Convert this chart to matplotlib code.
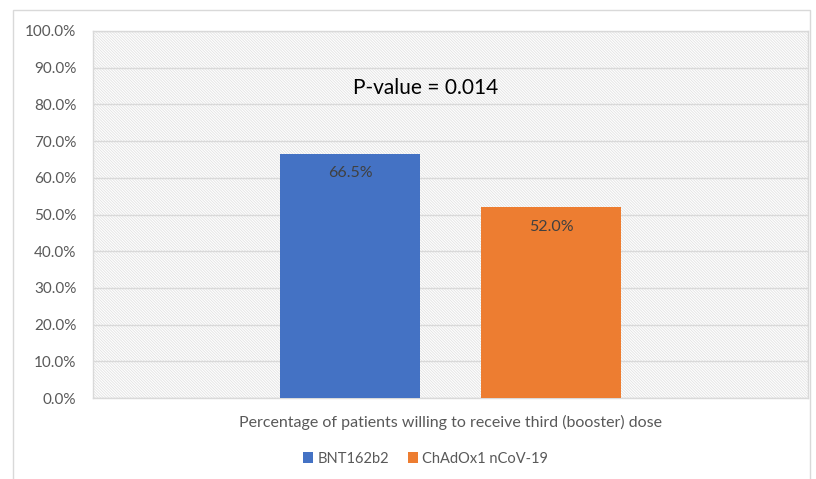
import matplotlib.pyplot as plt
from matplotlib.patches import Rectangle
from matplotlib.ticker import FuncFormatter

plt.rcParams['font.family'] = ['Lato', 'DejaVu Sans']
plt.rcParams['hatch.linewidth'] = 0.6

category = "Percentage of patients willing to receive third (booster) dose"
series = ["BNT162b2", "ChAdOx1 nCoV-19"]
values = [66.5, 52.0]
colors = ["#4472c4", "#ed7d31"]
p_value_text = "P-value = 0.014"

fig = plt.figure(figsize=(8.16, 4.79), dpi=100)
ax = fig.add_axes([93 / 816, 1 - 398 / 479, 715 / 816, 367 / 479])

# outer chart frame
fig.patches.append(Rectangle((13 / 816, -0.1), 797 / 816, 1.1 - 10 / 479,
                             transform=fig.transFigure, fill=False,
                             edgecolor="#d9d9d9", linewidth=1))

# hatched plot area
ax.add_patch(Rectangle((0, 0), 1, 1, transform=ax.transAxes, facecolor="white",
                       edgecolor="#e2e2e2", hatch="\\" * 12, linewidth=0, zorder=0))

offsets = [-0.1405, 0.1405]
width = 0.196
for name, val, col, off in zip(series, values, colors, offsets):
    ax.bar(off, val, width, color=col, label=name, zorder=3)
    ax.text(off, val - 5.3, f"{val:.1f}%", ha="center", va="center",
            fontsize=11.5, color="#404040", zorder=4)

ax.text(-0.035, 84.5, p_value_text, ha="center", va="center", fontsize=15,
        color="black", zorder=4)

ax.set_xlim(-0.5, 0.5)
ax.set_ylim(0, 100)
ax.set_yticks(range(0, 101, 10))
ax.yaxis.set_major_formatter(FuncFormatter(lambda v, p: f"{v:.1f}%"))
ax.tick_params(axis="y", length=0, pad=12, labelsize=11, labelcolor="#595959")
ax.set_xticks([0])
ax.set_xticklabels([category])
ax.tick_params(axis="x", length=0, pad=12, labelsize=11.5, labelcolor="#595959")
ax.grid(axis="y", color="#d9d9d9", linewidth=1, zorder=1)
ax.set_axisbelow(True)
for s in ax.spines.values():
    s.set_color("#d9d9d9")
    s.set_linewidth(1)

leg = ax.legend(loc="center", bbox_to_anchor=(0.465, -0.165), ncol=2, frameon=False,
                fontsize=10.5, handlelength=0.7, handleheight=0.7, handletextpad=0.3,
                columnspacing=1.3)
for t in leg.get_texts():
    t.set_color("#595959")

fig.savefig("out.png", dpi=100)
